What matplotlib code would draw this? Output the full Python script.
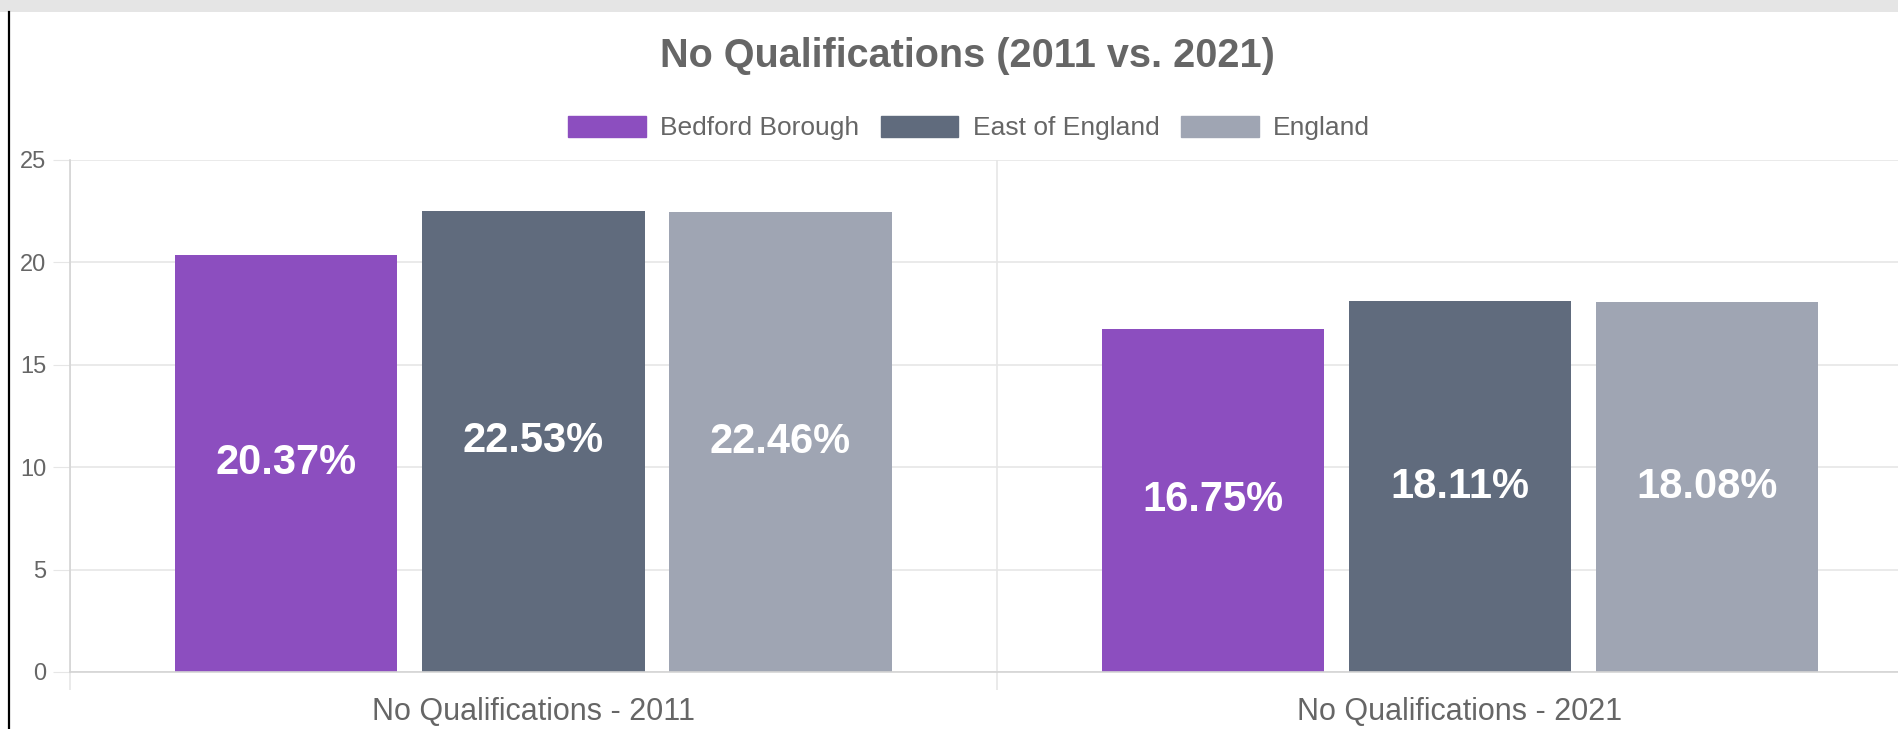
import numpy as np
import matplotlib.pyplot as plt
from matplotlib.patches import Patch, Rectangle
from matplotlib.lines import Line2D

plt.rcParams['font.family'] = ['Liberation Sans', 'DejaVu Sans']

# data
categories = ['No Qualifications - 2011', 'No Qualifications - 2021']
series_names = ['Bedford Borough', 'East of England', 'England']
bedford = [20.37, 16.75]
east_of_england = [22.53, 18.11]
england = [22.46, 18.08]
y_ticks = [0, 5, 10, 15, 20, 25]

colors = ['#8c4ebf', '#606b7d', '#9fa5b3']
text_grey = '#666666'
grid_grey = '#e6e6e6'

W, H = 1898, 729
fig = plt.figure(figsize=(W / 100, H / 100), dpi=100)

# grey strip at the top and black line on the left (screenshot frame)
fig.patches.append(Rectangle((0, 1 - 12 / H), 1, 12 / H, transform=fig.transFigure,
                             facecolor='#e5e5e5', edgecolor='none', zorder=0))
fig.lines.append(Line2D([8.5 / W, 8.5 / W], [0, 1 - 12 / H], transform=fig.transFigure,
                        color='black', lw=1.6))

left, right = 70, W
bottom, top = 672, 160
ax = fig.add_axes([left / W, 1 - bottom / H, (right - left) / W, (bottom - top) / H])

x = np.arange(len(categories))
slot = 0.8 / 3
bar_w = slot * 0.9
all_series = [bedford, east_of_england, england]
for i, (vals, col) in enumerate(zip(all_series, colors)):
    pos = x + (i - 1) * slot
    ax.bar(pos, vals, width=bar_w, color=col, zorder=2)
    for p, v in zip(pos, vals):
        ax.text(p, v / 2, f'{v:.2f}%', ha='center', va='center', color='white',
                fontsize=30, fontweight='bold', zorder=3)

ax.set_yticks(y_ticks)
ax.set_xticks(x)
ax.set_xticklabels(categories)
ax.set_xticks([-0.5, 0.5], minor=True)
# the chart is cut off on the right, so the last category runs past the edge
ax.set_ylim(0, 25)
ax.set_xlim(-0.5, -0.5 + (right - left) / 926.7)

ax.tick_params(axis='y', length=12, color=grid_grey, pad=5, labelsize=17, labelcolor=text_grey)
ax.tick_params(axis='x', which='major', length=0, pad=18, labelsize=22, labelcolor=text_grey)
ax.tick_params(axis='x', which='minor', length=13, color=grid_grey, width=1.2)

ax.grid(axis='y', color=grid_grey, lw=1.2, zorder=0)
ax.grid(axis='x', which='minor', color=grid_grey, lw=1.2, zorder=0)
ax.set_axisbelow(True)

for s in ['top', 'right']:
    ax.spines[s].set_visible(False)
for s in ['left', 'bottom']:
    ax.spines[s].set_color('#d4d4d4')
    ax.spines[s].set_linewidth(1.2)

fig.text(967 / W, 1 - 56 / H, 'No Qualifications (2011 vs. 2021)', ha='center', va='center',
         fontsize=28.5, fontweight='bold', color=text_grey)

handles = [Patch(facecolor=c, edgecolor=c) for c in colors]
fig.legend(handles, series_names, loc='center', bbox_to_anchor=(969 / W, 1 - 128 / H),
           ncol=3, frameon=False, fontsize=19, handlelength=2.95, handleheight=0.85,
           handletextpad=0.55, columnspacing=0.8, labelcolor=text_grey)

fig.savefig('out.png', dpi=100)
